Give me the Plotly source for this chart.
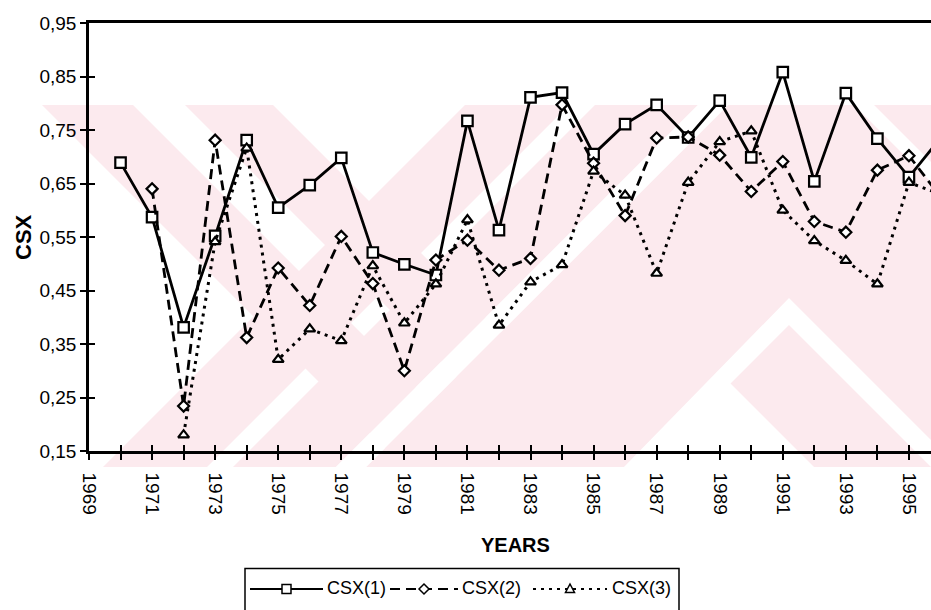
import plotly.graph_objects as go

# ---- data ---------------------------------------------------------------
years = list(range(1970, 1997))

csx1 = [0.689, 0.587, 0.381, 0.552, 0.731, 0.605, 0.647, 0.698, 0.521, 0.499,
        0.479, 0.767, 0.563, 0.811, 0.820, 0.705, 0.761, 0.797, 0.736, 0.805,
        0.699, 0.858, 0.654, 0.819, 0.734, 0.662, 0.735]

csx2 = [None, 0.640, 0.234, 0.731, 0.362, 0.492, 0.422, 0.551, 0.463, 0.300,
        0.507, 0.544, 0.488, 0.510, 0.797, 0.688, 0.590, 0.735, 0.737, 0.703,
        0.635, 0.691, 0.579, 0.559, 0.675, 0.702, 0.625]

csx3 = [None, None, 0.180, 0.541, 0.716, 0.321, 0.378, 0.356, 0.496, 0.389,
        0.462, 0.582, 0.385, 0.466, 0.498, 0.673, 0.628, 0.482, 0.652, 0.728,
        0.748, 0.600, 0.543, 0.506, 0.462, 0.652, 0.630]

series_names = ["CSX(1)", "CSX(2)", "CSX(3)"]

x_tick_years = list(range(1969, 1996))
x_tick_text = [str(y) if y % 2 == 1 else "" for y in x_tick_years]

y_tick_vals = [0.15, 0.25, 0.35, 0.45, 0.55, 0.65, 0.75, 0.85, 0.95]
y_tick_text = ["0,15", "0,25", "0,35", "0,45", "0,55", "0,65", "0,75", "0,85", "0,95"]

# ---- layout geometry (pixels) -------------------------------------------
W, H = 931, 610
L, R, T, B = 89, 0, 23, 159
PLOT_W = W - L - R
PLOT_H = H - T - B

FONT = "Liberation Sans, Arial, sans-serif"
PINK = "rgb(252,234,238)"

# per-series styling
LINE_DASH = ["solid", "10px,6px", "3px,5px"]
SYMBOLS = ["square", "diamond", "triangle-up"]
SIZES = [10.5, 8.5, 9.5]


def px(x):
    return (x - L) / PLOT_W


def py(y):
    return (H - B - y) / PLOT_H


def to_paper(pts):
    """Pixel polygon -> SVG path in paper coordinates."""
    out = []
    for i, (x, y) in enumerate(pts):
        out.append(("M" if i == 0 else "L") + f"{px(x):.5f},{py(y):.5f}")
    return " ".join(out) + " Z"


# background stamp: pink diagonal bands with white cut-outs
pink_polys = [
    [(42, 105), (133, 105), (495, 467), (404, 467)],
    [(185, 105), (273, 105), (635, 467), (547, 467)],
    [(103, 467), (207, 467), (569, 105), (465, 105)],
    [(233, 467), (336, 467), (698, 105), (595, 105)],
    [(366, 467), (728, 105), (1000, 105), (1000, 467)],
]
white_polys = [
    [(336, 467), (366, 467), (728, 105), (698, 105)],
    [(624, 467), (789, 298), (958, 467), (931, 467), (789, 325),
     (730.5, 383.5), (814, 467)],
    [(854, 105), (874, 105), (1000, 231), (1000, 251)],
]

shapes = []
for poly in pink_polys:
    shapes.append(dict(type="path", path=to_paper(poly), xref="paper", yref="paper",
                       fillcolor=PINK, line=dict(width=0), layer="below"))
for poly in white_polys:
    shapes.append(dict(type="path", path=to_paper(poly), xref="paper", yref="paper",
                       fillcolor="white", line=dict(width=0), layer="below"))

# ---- legend drawn by hand (long key lines as in the printed figure) ------
LEG_BOX = (245, 568.5, 679, 640)
LEG_Y = 589
LEG_KEYS = [(250, 323), (390, 458), (533, 607)]
LEG_TEXT_X = [325, 460, 610]

shapes.append(dict(type="rect", xref="paper", yref="paper",
                   x0=px(LEG_BOX[0]), y0=py(LEG_BOX[1]),
                   x1=px(LEG_BOX[2]), y1=py(LEG_BOX[3]),
                   line=dict(color="black", width=1.5), fillcolor="white",
                   layer="above"))


def marker_path(sym, cx, cy):
    if sym == "square":
        h = 4.5
        pts = [(cx - h, cy - h), (cx + h, cy - h), (cx + h, cy + h), (cx - h, cy + h)]
    elif sym == "diamond":
        h = 5
        pts = [(cx, cy - h), (cx + h, cy), (cx, cy + h), (cx - h, cy)]
    else:
        pts = [(cx, cy - 5), (cx + 4.5, cy + 3.5), (cx - 4.5, cy + 3.5)]
    return to_paper(pts)


legend_annotations = []
for i, name in enumerate(series_names):
    x0, x1 = LEG_KEYS[i]
    shapes.append(dict(type="line", xref="paper", yref="paper",
                       x0=px(x0), x1=px(x1), y0=py(LEG_Y), y1=py(LEG_Y),
                       line=dict(color="black", width=2, dash=LINE_DASH[i]),
                       layer="above"))
    shapes.append(dict(type="path", xref="paper", yref="paper",
                       path=marker_path(SYMBOLS[i], (x0 + x1) / 2, LEG_Y),
                       fillcolor="white", line=dict(color="black", width=1.5),
                       layer="above"))
    legend_annotations.append(dict(
        text=name, xref="paper", yref="paper", x=px(LEG_TEXT_X[i]), y=py(LEG_Y - 1),
        xanchor="left", yanchor="middle", showarrow=False,
        font=dict(family=FONT, size=18, color="black")))

# ---- traces ---------------------------------------------------------------
fig = go.Figure()

for i, vals in enumerate([csx1, csx2, csx3]):
    fig.add_trace(go.Scatter(
        x=years, y=vals, name=series_names[i], mode="lines+markers",
        line=dict(color="black", width=2.8 if i < 2 else 3, dash=LINE_DASH[i]),
        marker=dict(symbol=SYMBOLS[i], size=SIZES[i], color="white",
                    line=dict(color="black", width=2.2)),
        showlegend=False,
    ))

# empty trace so the overlay axes (inner half of the cross ticks) are drawn
fig.add_trace(go.Scatter(x=[], y=[], xaxis="x2", yaxis="y2",
                         showlegend=False, hoverinfo="skip"))

x_range = [1969, 1995.7]
y_range = [0.15, 0.95]
tickfont = dict(family=FONT, size=19, color="black")

fig.update_layout(
    width=W, height=H, autosize=False,
    margin=dict(l=L, r=R, t=T, b=B, pad=0),
    paper_bgcolor="white", plot_bgcolor="rgba(0,0,0,0)",
    font=dict(family=FONT, color="black"),
    shapes=shapes,
    showlegend=False,
    xaxis=dict(
        range=x_range, tickmode="array", tickvals=x_tick_years, ticktext=x_tick_text,
        tickangle=90, ticks="outside", ticklen=6, tickwidth=1.5, tickcolor="black",
        tickfont=tickfont, ticklabelstandoff=9,
        showline=True, linecolor="black", linewidth=2.5, mirror=True,
        showgrid=False, zeroline=False,
    ),
    xaxis2=dict(
        range=x_range, overlaying="x", anchor="y2", side="bottom",
        tickmode="array", tickvals=x_tick_years, ticks="inside", ticklen=6,
        tickwidth=1.5, tickcolor="black", showticklabels=False,
        showline=False, showgrid=False, zeroline=False,
    ),
    yaxis=dict(
        range=y_range, tickmode="array", tickvals=y_tick_vals, ticktext=y_tick_text,
        ticks="outside", ticklen=6, tickwidth=1.5, tickcolor="black",
        tickfont=tickfont,
        showline=True, linecolor="black", linewidth=2.5,
        showgrid=False, zeroline=False,
    ),
    yaxis2=dict(
        range=y_range, overlaying="y", anchor="x2", side="left",
        tickmode="array", tickvals=y_tick_vals, ticks="inside", ticklen=6,
        tickwidth=1.5, tickcolor="black", showticklabels=False,
        showline=False, showgrid=False, zeroline=False,
    ),
    annotations=[
        dict(text="<b>YEARS</b>", xref="paper", yref="paper",
             x=px(515), y=py(545),
             xanchor="center", yanchor="middle", showarrow=False,
             font=dict(family=FONT, size=20, color="black")),
        dict(text="<b>CSX</b>", xref="paper", yref="paper",
             x=px(23), y=py(237),
             xanchor="center", yanchor="middle", showarrow=False, textangle=-90,
             font=dict(family=FONT, size=22, color="black")),
    ] + legend_annotations,
)

fig.write_html("out.html")
